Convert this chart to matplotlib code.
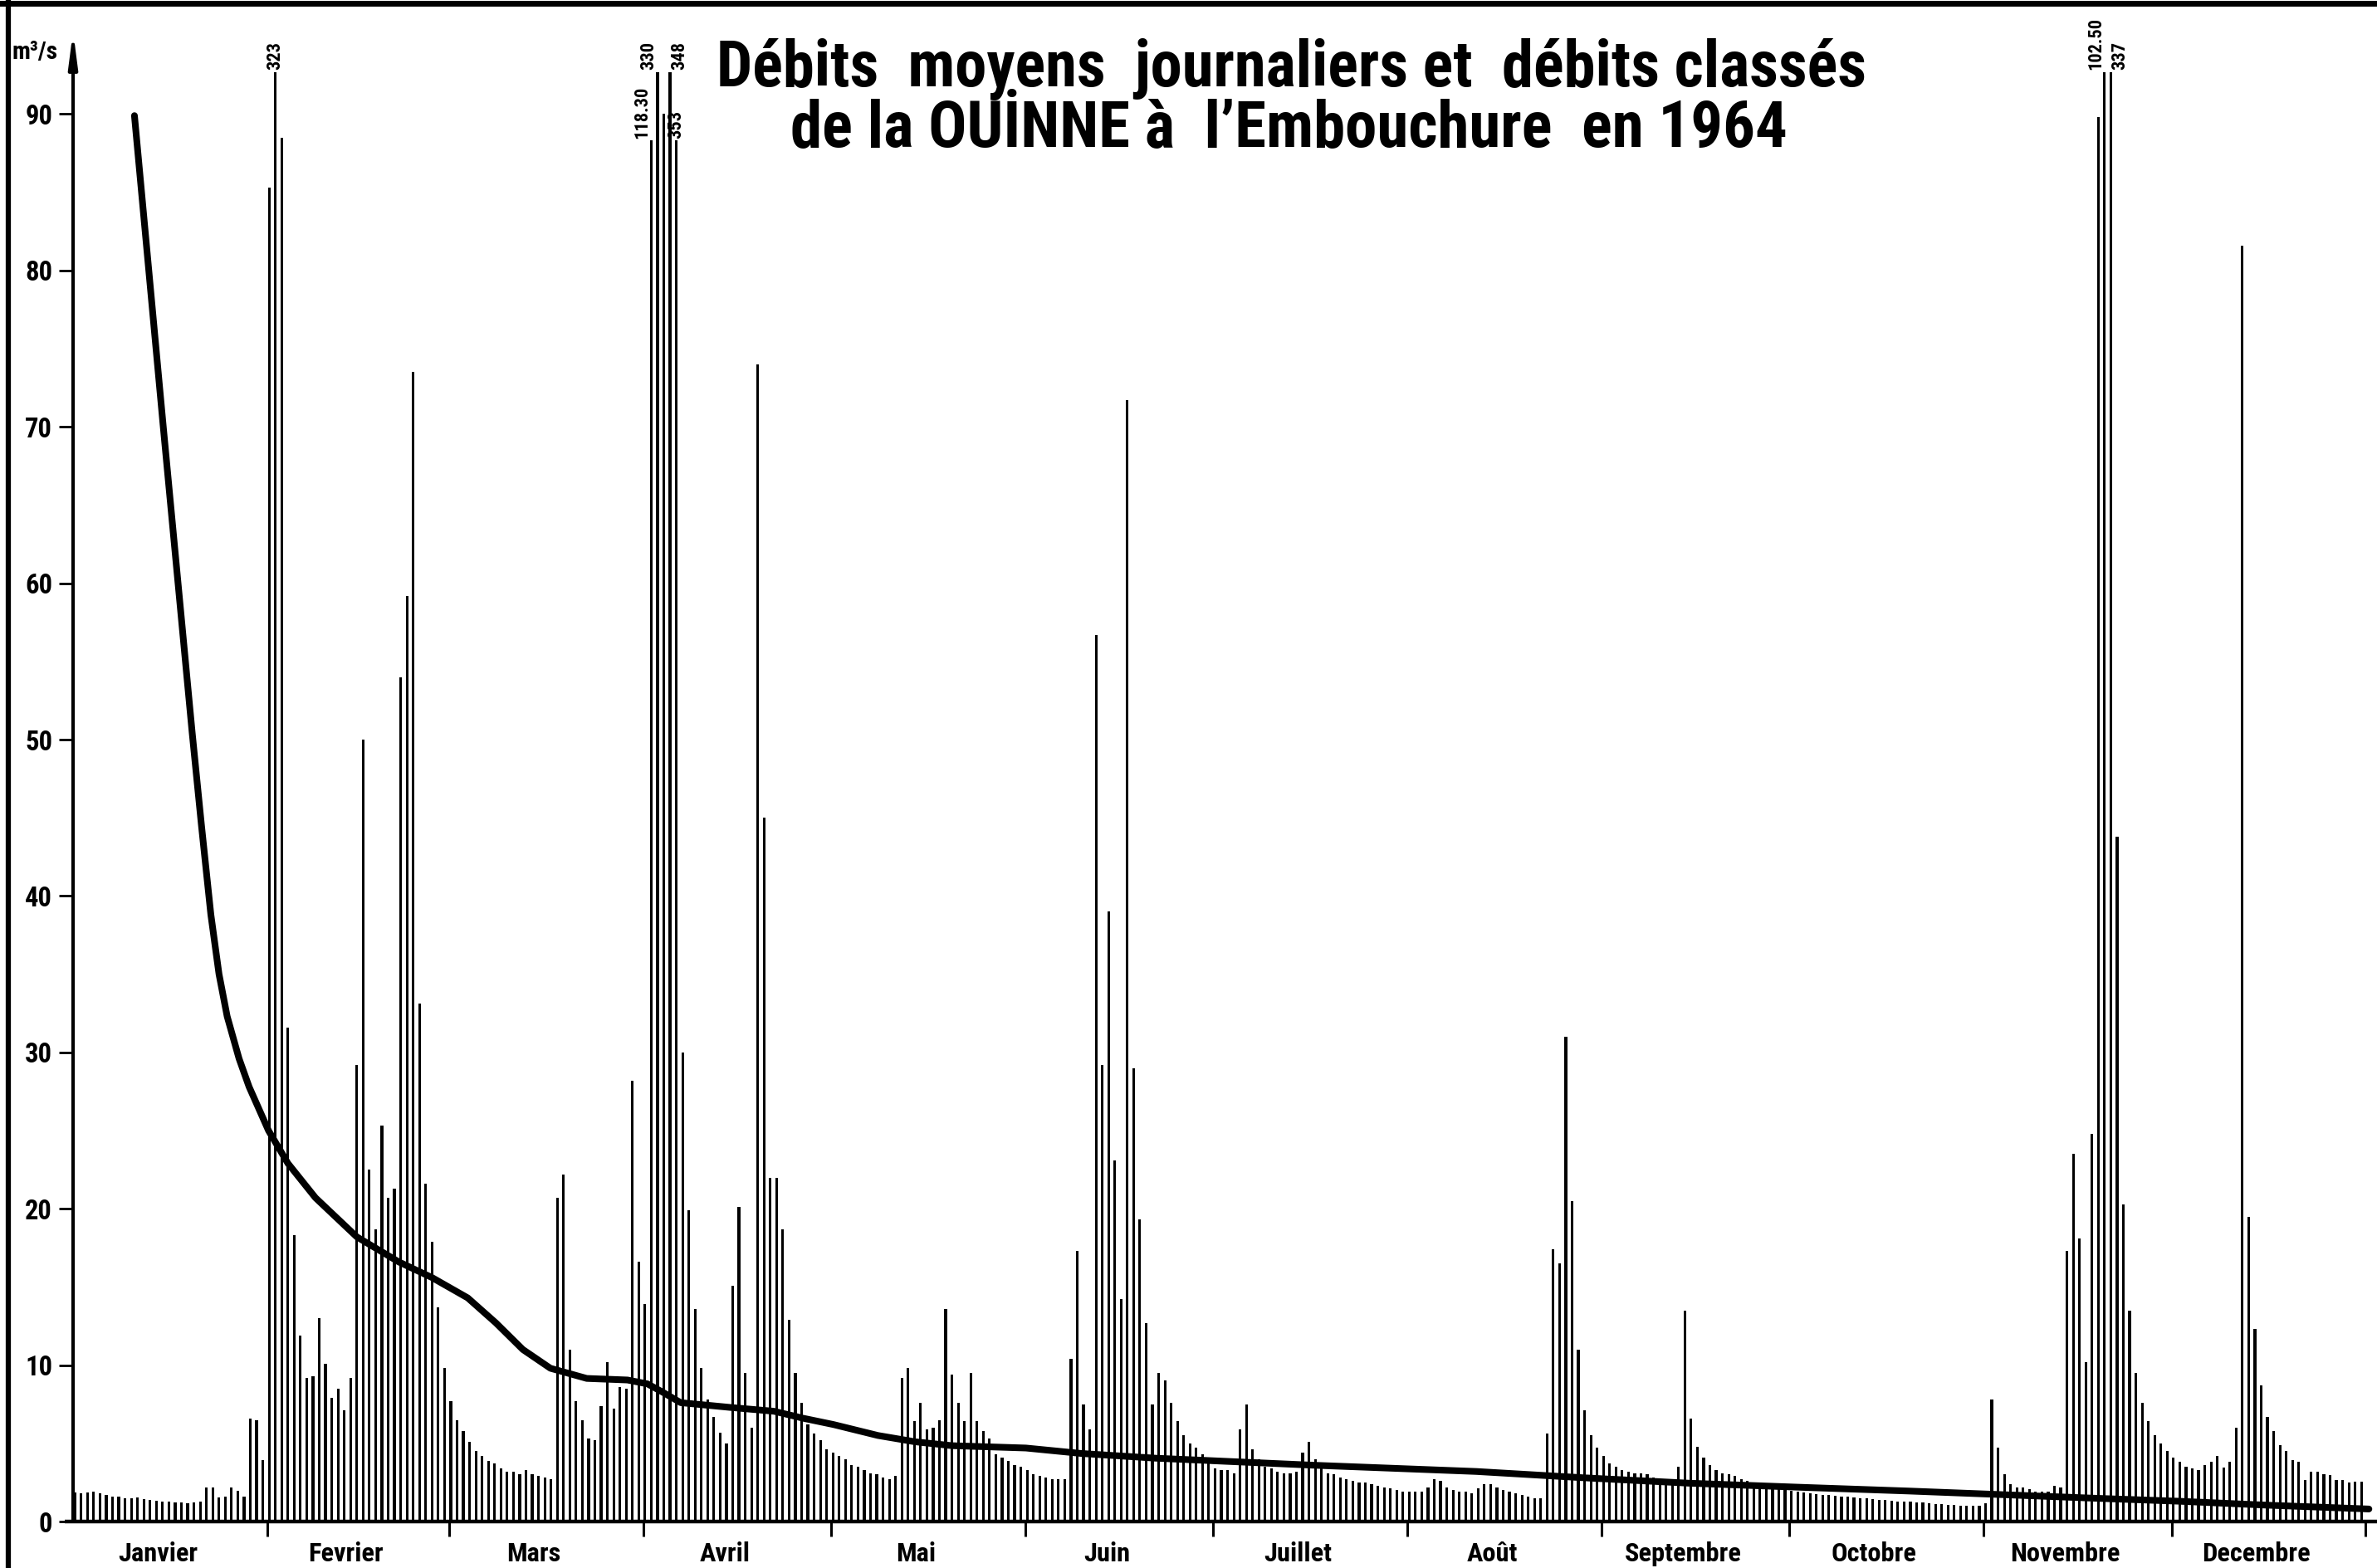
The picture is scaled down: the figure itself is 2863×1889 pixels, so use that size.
import numpy as np
import matplotlib
matplotlib.use("Agg")
import matplotlib.pyplot as plt
from matplotlib import font_manager
from matplotlib.lines import Line2D

plt.close("all")

#%%
# Débits moyens journaliers 1964 (m3/s)
janvier = [1.85, 1.82, 1.86, 1.9, 1.8, 1.7, 1.6, 1.6, 1.5, 1.47, 1.54, 1.42, 1.38, 1.33, 1.3, 1.25,
           1.2, 1.2, 1.15, 1.2, 1.27, 2.2, 2.2, 1.55, 1.6, 2.2, 1.95, 1.6, 6.6, 6.5, 3.95]
fevrier = [85.3, 323, 88.5, 31.6, 18.3, 11.9, 9.2, 9.3, 13.0, 10.1, 7.9, 8.5, 7.1, 9.2, 29.2,
           50.0, 22.5, 18.7, 25.3, 20.7, 21.3, 54.0, 59.2, 73.5, 33.1, 21.6, 17.9, 13.7, 9.8]
mars = [7.7, 6.5, 5.8, 5.1, 4.5, 4.2, 3.9, 3.7, 3.4, 3.2, 3.2, 3.0, 3.3, 3.0, 2.9, 2.8,
        2.7, 20.7, 22.2, 11.0, 7.7, 6.5, 5.3, 5.2, 7.4, 10.2, 7.2, 8.6, 8.5, 28.2, 16.6]
avril = [13.9, 118.30, 330, 90.0, 348, 353, 30.0, 19.9, 13.6, 9.8, 7.8, 6.7, 5.7, 5.0, 15.1,
         20.1, 9.5, 6.0, 74.0, 45.0, 22.0, 22.0, 18.7, 12.9, 9.5, 7.6, 6.2, 5.6, 5.2, 4.6]
mai = [4.4, 4.2, 4.0, 3.6, 3.5, 3.3, 3.1, 3.0, 2.8, 2.7, 2.9, 9.2, 9.8, 6.4, 7.6, 5.9,
       6.0, 6.5, 13.6, 9.4, 7.6, 6.4, 9.5, 6.4, 5.8, 5.3, 4.3, 4.1, 3.9, 3.6, 3.5]
juin = [3.3, 3.0, 2.9, 2.8, 2.7, 2.7, 2.7, 10.4, 17.3, 7.5, 5.9, 56.7, 29.2, 39.0, 23.1,
        14.2, 71.7, 29.0, 19.3, 12.7, 7.5, 9.5, 9.0, 7.6, 6.4, 5.5, 5.0, 4.7, 4.3, 4.1]
juillet = [3.4, 3.3, 3.3, 3.1, 5.9, 7.5, 4.6, 4.0, 3.5, 3.4, 3.2, 3.1, 3.1, 3.2, 4.4, 5.1,
           4.0, 3.4, 3.1, 3.0, 2.8, 2.7, 2.6, 2.5, 2.5, 2.4, 2.3, 2.2, 2.1, 2.0, 1.9]
aout = [1.9, 1.9, 1.9, 2.2, 2.7, 2.6, 2.2, 2.0, 1.9, 1.9, 1.8, 2.1, 2.4, 2.4, 2.2, 2.0,
        1.9, 1.8, 1.7, 1.6, 1.5, 1.5, 5.6, 17.4, 16.5, 31.0, 20.5, 11.0, 7.1, 5.5, 4.7]
septembre = [4.2, 3.7, 3.5, 3.3, 3.2, 3.1, 3.1, 3.0, 2.8, 2.7, 2.6, 2.5, 3.5, 13.5, 6.6,
             4.8, 4.1, 3.6, 3.3, 3.1, 3.0, 2.9, 2.7, 2.6, 2.5, 2.4, 2.3, 2.2, 2.1, 2.0]
octobre = [1.95, 1.9, 1.85, 1.8, 1.75, 1.7, 1.7, 1.65, 1.6, 1.6, 1.55, 1.5, 1.5, 1.45, 1.4, 1.4,
           1.35, 1.3, 1.3, 1.25, 1.2, 1.2, 1.15, 1.1, 1.1, 1.05, 1.05, 1.0, 1.0, 1.0, 1.0]
novembre = [1.15, 7.8, 4.7, 3.0, 2.4, 2.2, 2.2, 2.05, 1.9, 1.9, 1.9, 2.3, 2.2, 17.3, 23.5,
            18.1, 10.2, 24.8, 89.8, 102.50, 337, 43.8, 20.3, 13.5, 9.5, 7.6, 6.4, 5.5, 5.0, 4.5]
decembre = [4.1, 3.8, 3.5, 3.4, 3.3, 3.6, 3.8, 4.2, 3.45, 3.8, 6.0, 81.6, 19.5, 12.3, 8.7, 6.7,
            5.8, 4.9, 4.5, 3.95, 3.8, 2.65, 3.2, 3.2, 3.0, 2.95, 2.65, 2.65, 2.5, 2.55, 2.55]

mois = ["Janvier", "Fevrier", "Mars", "Avril", "Mai", "Juin",
        "Juillet", "Août", "Septembre", "Octobre", "Novembre", "Decembre"]

# Débits classés (nombre de jours, débit m3/s)
classes_jours = [9.8, 14.4, 19.0, 20.5, 22.0, 23.3, 24.6, 26.5, 28.1, 31.2, 34.3, 38.7, 45.3,
                 52.0, 57.3, 63.0, 67.5, 71.8, 76.2, 82.0, 88.5, 91.7, 94.0, 97.0, 104.8,
                 111.9, 116.6, 121.4, 128.5, 134.4, 140.3, 152.1, 161.0, 172.8, 198.0, 224.0,
                 241.0, 258.0, 275.0, 293.0, 306.0, 322.0, 336.0, 350.0, 366.5]
classes_debits = [89.9, 70.0, 50.5, 44.5, 38.8, 35.0, 32.3, 29.6, 27.8, 25.0, 22.9, 20.7, 18.2,
                  16.6, 15.6, 14.3, 12.7, 11.0, 9.8, 9.15, 9.05, 8.8, 8.3, 7.6, 7.3,
                  7.05, 6.6, 6.2, 5.5, 5.1, 4.85, 4.7, 4.35, 4.05, 3.6, 3.2,
                  2.8, 2.45, 2.2, 1.95, 1.75, 1.5, 1.3, 1.05, 0.8]

#%%
debits = np.array(janvier + fevrier + mars + avril + mai + juin + juillet + aout
                  + septembre + octobre + novembre + decembre)
longueurs = [len(m) for m in (janvier, fevrier, mars, avril, mai, juin, juillet, aout,
                              septembre, octobre, novembre, decembre)]
debuts = np.concatenate([[0], np.cumsum(longueurs)])
jours = np.arange(len(debits))


def police_etroite():
    # police bold étroite si disponible, sinon DejaVu Sans
    noms = {f.name for f in font_manager.fontManager.ttflist}
    for nom in ["Liberation Sans Narrow", "DejaVu Sans Condensed", "Roboto Condensed"]:
        if nom in noms:
            return dict(fontfamily=nom, fontstretch="normal", fontweight="bold")
    for f in font_manager.fontManager.ttflist:
        if f.name == "DejaVu Sans" and "condensed" in str(f.stretch):
            return dict(fontfamily="DejaVu Sans", fontstretch="condensed", fontweight="bold")
    return dict(fontfamily="DejaVu Sans", fontstretch="normal", fontweight="bold")


police = police_etroite()

#%%
W, H = 2863, 1889
fig = plt.figure(figsize=(W / 100, H / 100), dpi=100)
px = 18.84           # pixels par m3/s
jour_px = 7.545      # pixels par jour
x0, y0 = 88, 1833    # origine des axes (pixels)

ax = fig.add_axes([x0 / W, (H - y0) / H, (W - x0) / W, y0 / H])
ax.set_xlim(0, (W - x0) / jour_px)
ax.set_ylim(0, y0 / px)
for s in ax.spines.values():
    s.set_visible(False)

# barres journalières (coupées en haut, valeur écrite au-dessus)
plafond = 92.7
plafond_bas = 88.3
etiquettes = {32: ("haut", "center"), 92: ("bas", "right"), 93: ("haut", "right"),
              95: ("haut", "left"), 96: ("bas", "center"),
              324: ("haut", "right"), 325: ("haut", "left")}
hauteurs = np.minimum(debits, plafond)
for j, (niveau, ha) in etiquettes.items():
    if niveau == "bas":
        hauteurs[j] = plafond_bas
ax.bar(jours + 0.3, hauteurs, width=0.42, color="black", linewidth=0, zorder=2)

textes_pics = []
for j in jours[debits > plafond]:
    v = debits[j]
    txt = str(int(v)) if v == int(v) else f"{v:.2f}"
    niveau, ha = etiquettes.get(j, ("haut", "center"))
    t = ax.text(j + 0.3, hauteurs[j] + 0.15, txt, rotation=90, ha=ha, va="bottom",
                fontsize=15, clip_on=False, **police)
    textes_pics.append(t)

# courbe des débits classés
ax.plot(classes_jours, classes_debits, color="black", linewidth=5.8,
        solid_capstyle="round", solid_joinstyle="round", zorder=3)

# axes dessinés à la main
ax.plot([-1.3, ax.get_xlim()[1]], [0, 0], color="black", linewidth=3.2,
        clip_on=False, zorder=4, solid_capstyle="butt")
ax.annotate("", xy=(0, 95.3), xytext=(0, 0),
            arrowprops=dict(arrowstyle="-|>,head_length=1.7,head_width=0.22",
                            mutation_scale=14, lw=3, color="black",
                            shrinkA=0, shrinkB=0),
            annotation_clip=False, zorder=4)

ax.set_yticks(np.arange(0, 100, 10))
ax.set_xticks(debuts[1:])
ax.set_xticklabels([])
ax.tick_params(axis="y", direction="out", length=12, width=2, pad=6, labelsize=20)
ax.tick_params(axis="x", direction="out", length=13, width=2.2)
for lab in ax.get_yticklabels():
    lab.set_fontfamily(police["fontfamily"])
    lab.set_fontweight("bold")
    lab.set_fontstretch(police["fontstretch"])

textes_mois = []
for i, nom in enumerate(mois):
    milieu = (debuts[i] + debuts[i + 1]) / 2 - 2
    t = ax.text(milieu, -(1872 - y0) / px, nom, ha="center", va="center",
                fontsize=20, clip_on=False, **police)
    textes_mois.append(t)

unite = fig.text(15 / W, 1 - 63 / H, "m³/s", ha="left", va="center", fontsize=16, **police)

titre1 = fig.text(1556 / W, 1 - 104 / H, "Débits  moyens  journaliers et  débits classés",
                  ha="center", va="baseline", fontsize=50, **police)
titre2 = fig.text(1552 / W, 1 - 176 / H, "de la OUİNNE à  l’Embouchure  en 1964",
                  ha="center", va="baseline", fontsize=50, **police)

# bord noir du tirage (haut et gauche)
fig.add_artist(Line2D([0, 1], [1 - 4 / H, 1 - 4 / H], color="black", linewidth=5,
                      transform=fig.transFigure))
fig.add_artist(Line2D([10 / W, 10 / W], [0, 1], color="black", linewidth=4.5,
                      transform=fig.transFigure))

#%%
# ajuste les tailles de police sur les largeurs mesurées sur l'original
fig.canvas.draw()
rend = fig.canvas.get_renderer()


def ajuster(textes, reference, cible, hauteur=False):
    bb = reference.get_window_extent(rend)
    mesure = bb.height if hauteur else bb.width
    k = cible / mesure
    for t in textes:
        t.set_fontsize(t.get_fontsize() * k)


ajuster([titre1], titre1, 1386)
ajuster([titre2], titre2, 1202)
ajuster(textes_mois, textes_mois[8], 140)
ajuster([unite], unite, 55)
ajuster(textes_pics, textes_pics[0], 34, hauteur=True)
etiq_y = ax.get_yticklabels()
bb = etiq_y[-1].get_window_extent(rend)
ax.tick_params(axis="y", labelsize=20 * 33 / bb.width)

fig.savefig("out.png", dpi=100)
